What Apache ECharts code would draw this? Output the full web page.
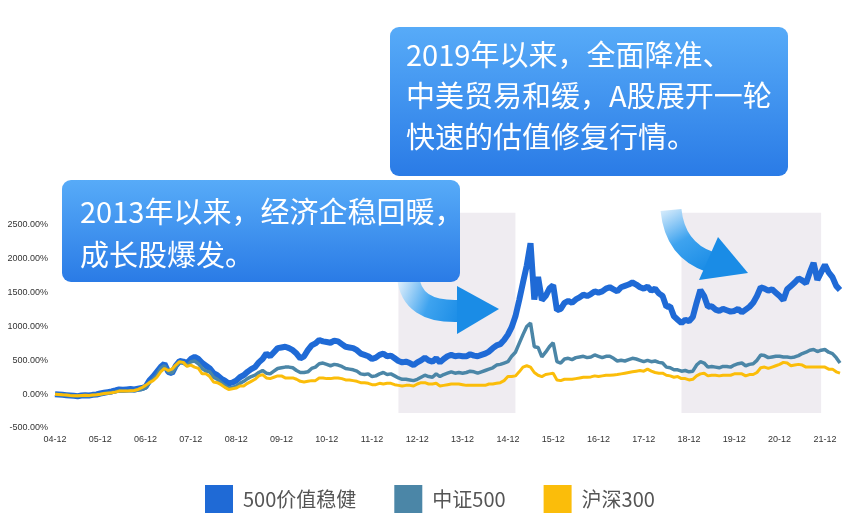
<!DOCTYPE html>
<html>
<head>
<meta charset="utf-8">
<script src="https://cdn.jsdelivr.net/npm/echarts@6/dist/echarts.min.js"></script>
<style>
html,body{margin:0;padding:0;background:#fff;}
#c{width:846px;height:517px;}
</style>
</head>
<body>
<div id="c"></div>
<script>
// monthly points from 2004-12 to 2022-04
const startYear = 2004, startMonth = 12, monthCount = 209;
const seriesNames = ['500价值稳健', '中证500', '沪深300'];
const yTicks = [-500, 0, 500, 1000, 1500, 2000, 2500];

// 500价值稳健 (%)
const value500 = [
  0,
  -5, -10, -15, -20, -25, -30, -20, -15, -20, -10, -5, 10,
  20, 30, 40, 55, 70, 65, 70, 75, 70, 80, 90, 110,
  200, 260, 330, 400, 450, 330, 310, 420, 490, 480, 460, 520,
  550, 520, 460, 420, 380, 310, 280, 230, 200, 160, 170, 200,
  250, 280, 330, 370, 400, 470, 520, 600, 560, 620, 680, 690,
  700, 680, 650, 600, 530, 560, 650, 720, 750, 800, 780, 770,
  760, 790, 780, 740, 700, 690, 680, 650, 600, 580, 560, 520,
  540, 580, 600, 560, 570, 530, 490, 470, 480, 460, 430, 470,
  500, 540, 500, 480, 530, 470, 520, 560, 580, 560, 570, 560,
  560, 590, 570, 560, 580, 600, 630, 680, 720, 740, 800, 880,
  990, 1150, 1390, 1650, 1900, 2230, 1400, 1730, 1390, 1450, 1560, 1610,
  1240, 1260, 1350, 1380, 1350, 1400, 1430, 1470, 1450, 1480, 1520, 1500,
  1520, 1560, 1580, 1550, 1520, 1580, 1600, 1620, 1650, 1620, 1580, 1560,
  1590, 1530, 1560, 1490, 1450, 1290, 1300, 1150, 1100, 1050, 1100, 1080,
  1140, 1350, 1540, 1450, 1290, 1300, 1250, 1230, 1260, 1240, 1220, 1230,
  1260, 1210, 1250, 1290, 1350, 1450, 1580, 1560, 1530, 1550, 1500, 1450,
  1390, 1550, 1600, 1650, 1710, 1680, 1640, 1800, 1940, 1690, 1800, 1910,
  1800, 1730, 1600, 1540
];

// 中证500 (%)
const csi500 = [
  0,
  -5, -10, -15, -20, -25, -30, -25, -20, -25, -15, -10, 0,
  10, 20, 25, 35, 50, 45, 50, 50, 50, 60, 70, 90,
  170, 220, 280, 380, 420, 330, 310, 400, 470, 460, 420, 480,
  490, 450, 380, 340, 330, 250, 220, 170, 130, 90, 100, 120,
  160, 190, 230, 260, 280, 320, 350, 310, 300, 340, 380, 390,
  400, 400, 390, 350, 320, 320, 330, 380, 400, 450, 460, 440,
  420, 440, 430, 410, 380, 370, 360, 340, 300, 290, 300, 260,
  270, 300, 320, 290, 300, 270, 240, 220, 220, 210, 200, 220,
  250, 280, 260, 250, 300, 260, 290, 310, 330, 310, 320, 310,
  320, 340, 330, 310, 330, 350, 370, 390, 430, 440, 460, 480,
  560, 620, 750, 880, 1000, 1050, 700, 690, 550, 620, 700, 760,
  480, 460, 520, 530, 510, 540, 550, 560, 540, 550, 580, 560,
  540, 560, 560, 530, 490, 500, 490, 510, 530, 520, 500, 480,
  500, 480, 490, 470, 460, 400, 390, 360, 360, 340, 350, 330,
  340, 430, 480, 460, 400, 410, 400, 390, 410, 410, 400, 430,
  450, 460, 420, 440, 450, 500, 580, 570, 540, 550, 560, 560,
  550, 550, 540, 550, 570, 600, 620, 650, 660, 630, 650, 660,
  620, 600, 540, 460
];

// 沪深300 (%)
const hs300 = [
  0,
  -5, -10, -12, -18, -22, -25, -20, -15, -18, -12, -8, 0,
  10, 15, 20, 30, 45, 45, 45, 50, 55, 70, 95, 130,
  170, 200, 250, 330, 380, 350, 370, 430, 480, 470, 410, 430,
  400, 380, 300, 300, 260, 180, 170, 140, 100, 70, 80, 90,
  120, 120, 160, 190, 220, 270, 290, 240, 230, 250, 270, 270,
  240, 240, 240, 220, 190, 180, 190, 200, 200, 240, 240, 230,
  230, 240, 240, 230, 210, 210, 200, 190, 170, 170, 160, 140,
  140, 160, 150, 160, 160, 140, 130, 120, 130, 130, 120, 150,
  170, 170, 150, 150, 160, 120, 130, 140, 150, 150, 150, 140,
  130, 130, 130, 130, 130, 130, 150, 150, 160, 170, 200, 260,
  260, 270, 330, 400, 420, 400, 320, 280, 260, 290, 300, 310,
  210, 200, 220, 220, 220, 230, 240, 250, 250, 255, 270, 260,
  270, 280, 280, 285, 290, 300, 310, 320, 330, 340, 350, 340,
  370, 340, 320, 310, 310, 280, 270, 250, 260, 230, 230, 210,
  220, 270, 300, 310, 270, 280, 280, 270, 280, 280, 280, 300,
  300, 300, 270, 290, 290, 320, 390, 400, 380, 400, 420, 440,
  470, 460, 420, 430, 440, 430, 400, 400, 400, 400, 400, 400,
  370, 370, 330, 310
];

// shaded periods (category labels) and callout texts
const shadePeriods = [['12-07', '15-02'], ['18-10', '21-11']];
const shadeRange = [-280, 2680];
const callout1 = ['2013年以来，经济企稳回暖，', '成长股爆发。'];
const callout2 = ['2019年以来，全面降准、', '中美贸易和缓，A股展开一轮', '快速的估值修复行情。'];

const categories = [];
for (let i = 0; i < monthCount; i++) {
  const t = (startYear * 12 + (startMonth - 1)) + i;
  const y = Math.floor(t / 12), m = t % 12 + 1;
  categories.push(String(y % 100).padStart(2, '0') + '-' + String(m).padStart(2, '0'));
}

const colors = ['#1f6ad6', '#4b86a7', '#fbbd0a'];
const cjk = '"Noto Sans CJK SC", "Noto Sans", sans-serif';

const chart = echarts.init(document.getElementById('c'));

function boxGradient() {
  return {type: 'linear', x: 0, y: 0, x2: 0, y2: 1, colorStops: [
    {offset: 0, color: '#57abf8'},
    {offset: 1, color: '#2a7be6'}
  ]};
}
function arrowGradient(x1, y1, x2, y2) {
  return {type: 'linear', x: x1, y: y1, x2: x2, y2: y2, colorStops: [
    {offset: 0, color: 'rgba(255,255,255,0.95)'},
    {offset: 0.55, color: '#3ea3ef'},
    {offset: 1, color: '#1a8ce6'}
  ]};
}

const decorations = [
  {type: 'bezierCurve', z: 50, shape: {x1: 408, y1: 276, cpx1: 411, cpy1: 313, x2: 460, y2: 311},
    style: {stroke: arrowGradient(0, 0, 1, 0.5), lineWidth: 22, fill: null}},
  {type: 'polygon', z: 50, shape: {points: [[457, 286], [499, 309], [457, 334]]}, style: {fill: '#1a8ce6'}},
  {type: 'bezierCurve', z: 50, shape: {x1: 671, y1: 210, cpx1: 675, cpy1: 250, x2: 710, y2: 262},
    style: {stroke: arrowGradient(0, 0, 0.7, 1), lineWidth: 21, fill: null}},
  {type: 'polygon', z: 50, shape: {points: [[718, 237], [748, 273], [699, 280]]}, style: {fill: '#1a8ce6'}},
  {type: 'rect', z: 60, shape: {x: 62, y: 180, width: 398, height: 102, r: 9}, style: {fill: boxGradient()}},
  {type: 'text', z: 61, x: 80, y: 190, style: {text: callout1.join('\n'), fill: '#fff', font: '29px ' + cjk, lineHeight: 43}},
  {type: 'rect', z: 60, shape: {x: 390, y: 27, width: 398, height: 149, r: 9}, style: {fill: boxGradient()}},
  {type: 'text', z: 61, x: 406, y: 34, style: {text: callout2.join('\n'), fill: '#fff', font: '29px ' + cjk, lineHeight: 41}}
];

const option = {
  backgroundColor: '#ffffff',
  animation: false,
  color: colors,
  grid: {left: 55, right: 6, top: 225, bottom: 89, containLabel: false},
  legend: {
    data: seriesNames.map(n => ({name: n, icon: 'rect'})),
    left: 200,
    top: 480,
    itemWidth: 28,
    itemHeight: 28,
    itemGap: 38,
    textStyle: {color: '#555', fontSize: 20, fontFamily: cjk, padding: [0, 0, 0, 5]}
  },
  xAxis: {
    type: 'category',
    data: categories,
    boundaryGap: false,
    axisLine: {show: false},
    axisTick: {show: false},
    splitLine: {show: false},
    axisLabel: {interval: 11, color: '#333', fontSize: 9, margin: 7, fontFamily: 'Liberation Sans, Arial, sans-serif'}
  },
  yAxis: {
    type: 'value',
    min: yTicks[0],
    max: yTicks[yTicks.length - 1],
    interval: 500,
    axisLine: {show: false},
    axisTick: {show: false},
    splitLine: {show: false},
    axisLabel: {color: '#333', fontSize: 9, margin: 7, fontFamily: 'Liberation Sans, Arial, sans-serif',
      formatter: v => v.toFixed(2) + '%'}
  },
  series: [
    {name: seriesNames[0], type: 'line', data: value500, showSymbol: false, z: 3,
      lineStyle: {width: 6, color: colors[0]}, itemStyle: {color: colors[0]}},
    {name: seriesNames[1], type: 'line', data: csi500, showSymbol: false, z: 3,
      lineStyle: {width: 3.5, color: colors[1]}, itemStyle: {color: colors[1]}},
    {name: seriesNames[2], type: 'line', data: hs300, showSymbol: false, z: 3,
      lineStyle: {width: 3, color: colors[2]}, itemStyle: {color: colors[2]}}
  ],
  graphic: decorations
};
chart.setOption(option);

// shaded periods placed through the chart's own scales
const shades = shadePeriods.map(p => {
  const x1 = chart.convertToPixel({xAxisIndex: 0}, p[0]);
  const x2 = chart.convertToPixel({xAxisIndex: 0}, p[1]);
  const yTop = chart.convertToPixel({yAxisIndex: 0}, shadeRange[1]);
  const yBot = chart.convertToPixel({yAxisIndex: 0}, shadeRange[0]);
  return {type: 'rect', z: -10, shape: {x: x1, y: yTop, width: x2 - x1, height: yBot - yTop}, style: {fill: '#efecf1'}};
});
chart.setOption({graphic: shades.concat(decorations)}, {replaceMerge: ['graphic']});
</script>
</body>
</html>
